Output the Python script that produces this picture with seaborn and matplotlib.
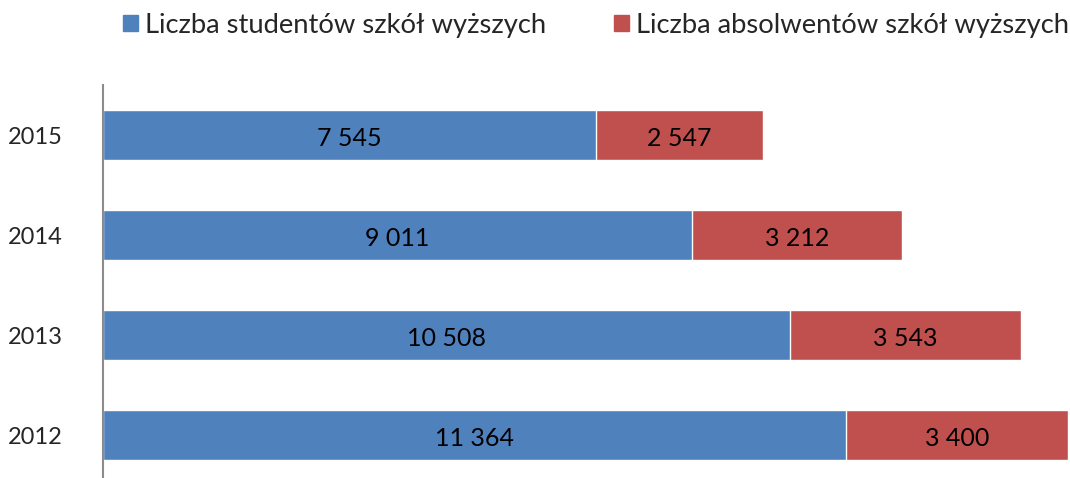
import numpy as np
import pandas as pd
import matplotlib.pyplot as plt
import matplotlib.patches as mpatches
import seaborn as sns

years = ['2015', '2014', '2013', '2012']
students = [7545, 9011, 10508, 11364]
graduates = [2547, 3212, 3543, 3400]

label_students = 'Liczba studentów szkół wyższych'
label_graduates = 'Liczba absolwentów szkół wyższych'

blue = '#4F81BD'
red = '#C0504D'

df = pd.DataFrame({'rok': years, 'studenci': students, 'absolwenci': graduates})
df['suma'] = df['studenci'] + df['absolwenci']

sns.set_style('white')
plt.rcParams['font.family'] = ['Lato', 'DejaVu Sans']

fig = plt.figure(figsize=(10.7, 4.78), dpi=100)
ax = fig.add_axes([103 / 1070, -7 / 478, 967 / 1070, 400 / 478])

# stacked bars: total in red behind, students in blue in front
sns.barplot(data=df, x='suma', y='rok', order=years, orient='h', color=red,
            saturation=1, width=0.5, ax=ax)
sns.barplot(data=df, x='studenci', y='rok', order=years, orient='h', color=blue,
            saturation=1, width=0.5, ax=ax)

def fmt(v):
    return f'{v:,}'.replace(',', ' ')

for i, (s, g) in enumerate(zip(students, graduates)):
    ax.text(s / 2, i + 0.03, fmt(s), ha='center', va='center', fontsize=18, color='black')
    ax.text(s + g / 2, i + 0.03, fmt(g), ha='center', va='center', fontsize=18, color='black')

ax.set_xlim(0, 14795)
ax.set_ylim(3.5, -0.5)
ax.set_xlabel('')
ax.set_ylabel('')
ax.set_xticks([])
ax.tick_params(axis='y', length=0, pad=29, labelsize=17)
for side in ['top', 'right', 'bottom']:
    ax.spines[side].set_visible(False)
ax.spines['left'].set_color('#8C8C8C')
ax.spines['left'].set_linewidth(1.5)

handles = [mpatches.Patch(color=blue, label=label_students),
           mpatches.Patch(color=red, label=label_graduates)]
fig.legend(handles=handles, loc='center', bbox_to_anchor=(0.557, 1 - 25 / 478),
           ncol=2, frameon=False, fontsize=19.7, handlelength=0.55, handleheight=0.55,
           handletextpad=0.25, columnspacing=2.5)

fig.savefig('out.png', dpi=100)
